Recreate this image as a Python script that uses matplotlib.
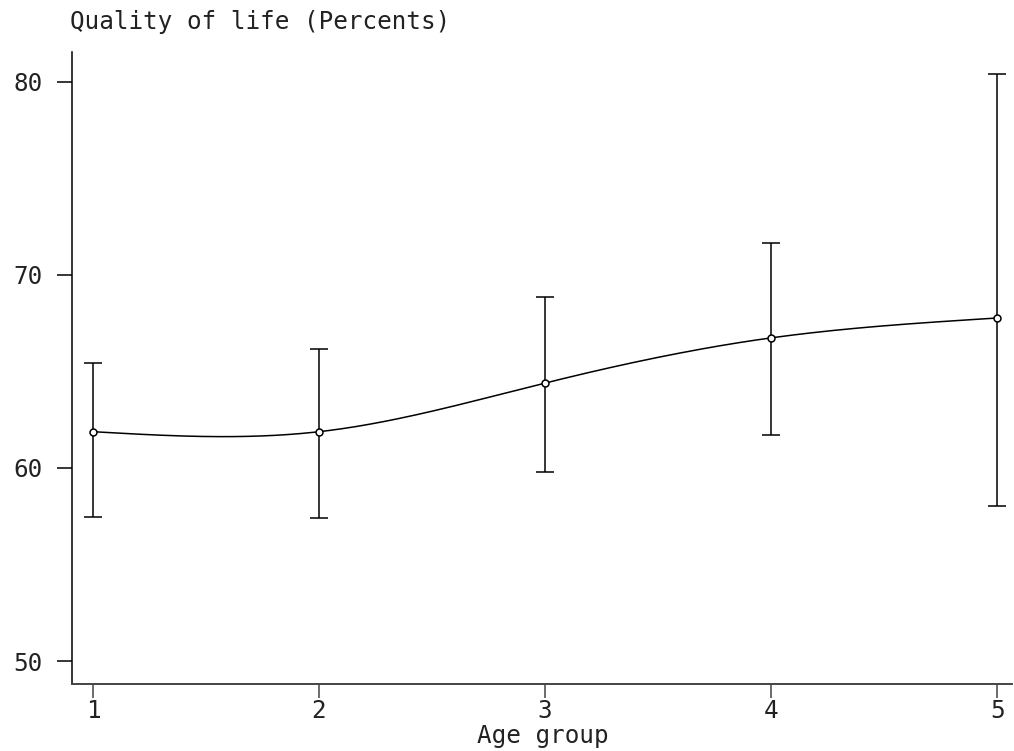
import numpy as np
import matplotlib
matplotlib.use("Agg")
import matplotlib.pyplot as plt

# Data
age_group = [1, 2, 3, 4, 5]
qol_mean = [61.88, 61.88, 64.40, 66.74, 67.77]
ci_upper = [65.42, 66.17, 68.86, 71.66, 80.41]
ci_lower = [57.48, 57.42, 59.79, 61.71, 58.03]
y_ticks = [50, 60, 70, 80]
x_ticks = [1, 2, 3, 4, 5]
title_text = "Quality of life (Percents)"
xlabel_text = "Age group"


def natural_spline(x, y, xs):
    x = np.asarray(x, float)
    y = np.asarray(y, float)
    n = len(x)
    h = np.diff(x)
    A = np.zeros((n, n))
    b = np.zeros(n)
    A[0, 0] = 1
    A[-1, -1] = 1
    for i in range(1, n - 1):
        A[i, i - 1] = h[i - 1]
        A[i, i] = 2 * (h[i - 1] + h[i])
        A[i, i + 1] = h[i]
        b[i] = 3 * ((y[i + 1] - y[i]) / h[i] - (y[i] - y[i - 1]) / h[i - 1])
    c = np.linalg.solve(A, b)
    out = np.empty_like(xs)
    for k, xv in enumerate(xs):
        i = min(max(np.searchsorted(x, xv) - 1, 0), n - 2)
        dx = xv - x[i]
        bi = (y[i + 1] - y[i]) / h[i] - h[i] * (2 * c[i] + c[i + 1]) / 3
        di = (c[i + 1] - c[i]) / (3 * h[i])
        out[k] = y[i] + bi * dx + c[i] * dx ** 2 + di * dx ** 3
    return out


font = "DejaVu Sans Mono"
plt.rcParams["font.family"] = font
FS = 17.5
TXT = "#222222"

W, H = 1014, 751
fig = plt.figure(figsize=(W / 100, H / 100), dpi=100)
ax = fig.add_axes([72 / W, 1 - 684 / H, (1012 - 72) / W, (684 - 52) / H])

xs = np.linspace(age_group[0], age_group[-1], 200)
ax.plot(xs, natural_spline(age_group, qol_mean, xs), color="black", lw=1.1)

yerr = [np.array(qol_mean) - np.array(ci_lower), np.array(ci_upper) - np.array(qol_mean)]
ax.errorbar(age_group, qol_mean, yerr=yerr, fmt="none", ecolor="black",
            elinewidth=1.1, capsize=6.5, capthick=1.1)
ax.plot(age_group, qol_mean, "o", mfc="white", mec="black", ms=5, mew=1.1, zorder=5)

ax.set_xlim(0.907, 5.066)
ax.set_ylim(48.81, 81.55)
ax.set_xticks(x_ticks)
ax.set_yticks(y_ticks)
ax.set_xticklabels([str(v) for v in x_ticks])
ax.set_yticklabels([str(v) for v in y_ticks])
for s in ["top", "right"]:
    ax.spines[s].set_visible(False)
ax.spines["left"].set_linewidth(1.1)
ax.spines["bottom"].set_linewidth(1.4)
ax.spines["bottom"].set_color("#444444")
ax.tick_params(axis="y", length=11, width=1.1, pad=10, labelsize=FS, direction="out", labelcolor=TXT)
ax.tick_params(axis="x", length=10, width=1.1, pad=1, labelsize=FS, direction="out", color="#444444", labelcolor=TXT)

fig.text(70 / W, 1 - 22 / H, title_text, ha="left", va="center", fontsize=FS, color=TXT)
fig.text(543 / W, 1 - 736 / H, xlabel_text, ha="center", va="center", fontsize=FS, color=TXT)

fig.savefig("out.png", dpi=100, facecolor="white")
